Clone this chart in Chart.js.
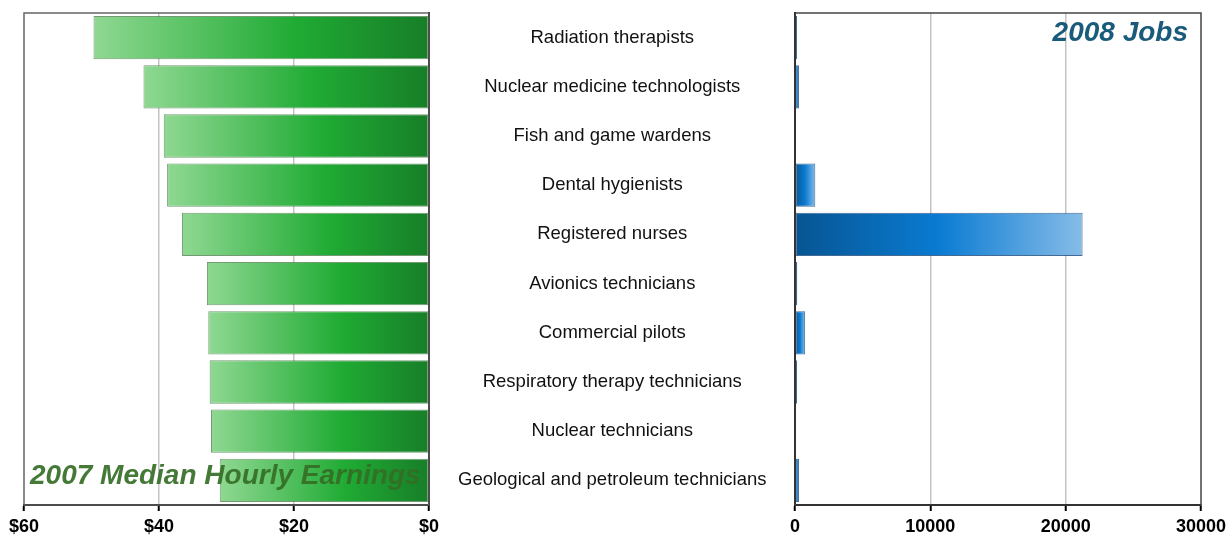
<!DOCTYPE html>
<html>
<head>
<meta charset="utf-8">
<script src="https://cdn.jsdelivr.net/npm/chart.js@4"></script>
<style>
  html, body { margin: 0; padding: 0; background: #fff; }
  #wrap { position: relative; width: 1229px; height: 537px; overflow: hidden; }
  #leftBox { position: absolute; left: 0; top: 0; width: 795px; height: 537px; }
  #rightBox { position: absolute; left: 780px; top: 0; width: 449px; height: 537px; }
</style>
</head>
<body>
<div id="wrap">
  <div id="leftBox"><canvas id="earningsChart"></canvas></div>
  <div id="rightBox"><canvas id="jobsChart"></canvas></div>
</div>
<script>
// data
var occupations = [
    'Radiation therapists',
    'Nuclear medicine technologists',
    'Fish and game wardens',
    'Dental hygienists',
    'Registered nurses',
    'Avionics technicians',
    'Commercial pilots',
    'Respiratory therapy technicians',
    'Nuclear technicians',
    'Geological and petroleum technicians'
];
var hourlyEarnings = [49.7, 42.3, 39.3, 38.8, 36.6, 32.9, 32.7, 32.5, 32.3, 31.0];
var jobs2008 = [150, 300, 60, 1500, 21250, 170, 750, 160, 80, 300];
var earningsTicks = [60, 40, 20, 0];
var jobsTicks = [0, 10000, 20000, 30000];

Chart.defaults.font.family = '"Liberation Sans", Arial, Helvetica, sans-serif';
Chart.defaults.animation = false;

function greenFill(c) {
    var chart = c.chart;
    if (!chart.chartArea || c.type !== 'data') return '#22aa33';
    var xs = chart.scales.x;
    var x0 = xs.getPixelForValue(c.raw);
    var x1 = xs.getPixelForValue(0);
    var g = chart.ctx.createLinearGradient(x0, 0, x1, 0);
    g.addColorStop(0, '#8fd892');
    g.addColorStop(0.6, '#20ab34');
    g.addColorStop(1, '#177e28');
    return g;
}

function blueFill(c) {
    var chart = c.chart;
    if (!chart.chartArea || c.type !== 'data') return '#0a78cc';
    var xs = chart.scales.x;
    var x0 = xs.getPixelForValue(0);
    var x1 = xs.getPixelForValue(c.raw);
    var g = chart.ctx.createLinearGradient(x0, 0, Math.max(x1, x0 + 1), 0);
    g.addColorStop(0, '#075592');
    g.addColorStop(0.5, '#0a7bd2');
    g.addColorStop(1, '#86bce8');
    return g;
}

// frame around the plot area + the big title text
function framePlugin(id, color, title) {
    return {
        id: id,
        beforeDatasetsDraw: function (chart) {
            var a = chart.chartArea, ctx = chart.ctx;
            ctx.save();
            ctx.strokeStyle = color;
            ctx.lineWidth = 1.5;
            ctx.strokeRect(a.left, a.top, a.right - a.left, a.bottom - a.top);
            ctx.restore();
        },
        afterDatasetsDraw: function (chart) {
            var a = chart.chartArea, ctx = chart.ctx;
            ctx.save();
            ctx.font = title.font;
            ctx.fillStyle = title.color;
            ctx.textAlign = title.align;
            ctx.textBaseline = 'alphabetic';
            var x = title.align === 'left' ? a.left + title.dx : a.right - title.dx;
            ctx.fillText(title.text, x, a.top + title.dy);
            ctx.restore();
        }
    };
}

var gridColor = function (c) {
    return (c.tick && (c.index === 0 || c.index === c.chart.scales.x.ticks.length - 1)) ? 'rgba(0,0,0,0)' : '#c4c4c4';
};

// Earnings chart (reversed axis, labels in the middle)
new Chart(document.getElementById('earningsChart'), {
    type: 'bar',
    data: {
        labels: occupations,
        datasets: [{
            data: hourlyEarnings,
            backgroundColor: greenFill,
            borderColor: 'rgba(70,120,70,0.75)',
            borderWidth: 1,
            borderSkipped: false,
            barPercentage: 0.88,
            categoryPercentage: 1
        }]
    },
    options: {
        indexAxis: 'y',
        responsive: true,
        maintainAspectRatio: false,
        layout: { padding: { left: 24, top: 13, right: 0, bottom: 0 } },
        plugins: { legend: { display: false }, tooltip: { enabled: false } },
        scales: {
            x: {
                reverse: true,
                min: 0,
                max: 60,
                afterBuildTicks: function (s) { s.ticks = earningsTicks.map(function (v) { return { value: v }; }); },
                afterFit: function (s) { s.height = 32; },
                grid: { color: gridColor, lineWidth: 1.5, tickColor: '#000', tickLength: 6, tickWidth: 2 },
                border: { color: '#000', width: 2 },
                ticks: {
                    color: '#000',
                    font: { size: 18, weight: 'bold' },
                    padding: 5,
                    maxRotation: 0,
                    callback: function (v) { return '$' + v; }
                }
            },
            y: {
                position: 'right',
                afterFit: function (s) { s.width = 366; s.paddingTop = 0; s.paddingBottom = 0; },
                grid: { display: false },
                border: { color: '#000', width: 2 },
                ticks: { color: '#111', font: { size: 18.5 }, crossAlign: 'center', padding: 21 }
            }
        }
    },
    plugins: [framePlugin('earnFrame', '#666', {
        text: '2007 Median Hourly Earnings',
        font: 'italic bold 28px "Liberation Sans", Arial, sans-serif',
        color: 'rgba(52,110,38,0.92)',
        align: 'left', dx: 6, dy: 471
    })]
});

// Jobs chart
new Chart(document.getElementById('jobsChart'), {
    type: 'bar',
    data: {
        labels: occupations,
        datasets: [{
            data: jobs2008,
            backgroundColor: blueFill,
            borderColor: 'rgba(20,70,120,0.8)',
            borderWidth: 1,
            borderSkipped: false,
            barPercentage: 0.88,
            categoryPercentage: 1
        }]
    },
    options: {
        indexAxis: 'y',
        responsive: true,
        maintainAspectRatio: false,
        layout: { padding: { left: 15, top: 13, right: 28, bottom: 0 } },
        plugins: { legend: { display: false }, tooltip: { enabled: false } },
        scales: {
            x: {
                min: 0,
                max: 30000,
                afterBuildTicks: function (s) { s.ticks = jobsTicks.map(function (v) { return { value: v }; }); },
                afterFit: function (s) { s.height = 32; s.paddingLeft = 0; s.paddingRight = 0; },
                grid: { color: gridColor, lineWidth: 1.5, tickColor: '#000', tickLength: 6, tickWidth: 2 },
                border: { color: '#000', width: 2 },
                ticks: {
                    color: '#000',
                    font: { size: 18, weight: 'bold' },
                    padding: 5,
                    maxRotation: 0,
                    callback: function (v) { return String(v); }
                }
            },
            y: {
                afterFit: function (s) { s.width = 0; s.paddingTop = 0; s.paddingBottom = 0; },
                grid: { display: false },
                border: { color: '#000', width: 2 },
                ticks: { display: false }
            }
        }
    },
    plugins: [framePlugin('jobsFrame', '#444', {
        text: '2008 Jobs',
        font: 'italic bold 28px "Liberation Sans", Arial, sans-serif',
        color: '#1a5a7a',
        align: 'right', dx: 13, dy: 28
    })]
});
</script>
</body>
</html>
